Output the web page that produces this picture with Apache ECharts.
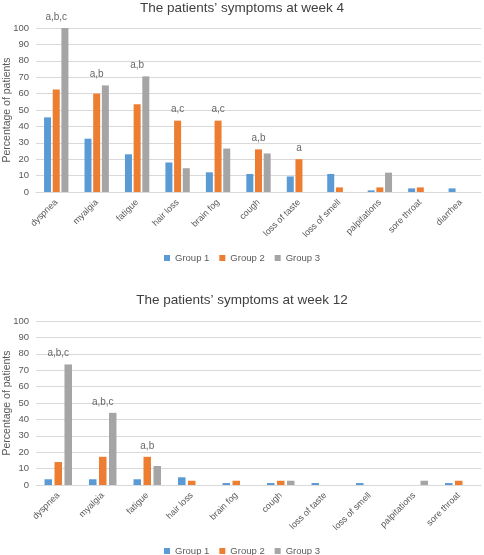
<!DOCTYPE html>
<html>
<head>
<meta charset="utf-8">
<script src="https://cdn.jsdelivr.net/npm/echarts@6/dist/echarts.min.js"></script>
<style>
html,body{margin:0;padding:0;background:#fff;}
#chart{width:484px;height:555px;}
</style>
</head>
<body>
<div id="chart"></div>
<script>
const groupNames = ['Group 1', 'Group 2', 'Group 3'];
const colors = ['#5B9BD5', '#ED7D31', '#A5A5A5'];

const categoriesWeek4 = ['dyspnea', 'myalgia', 'fatigue', 'hair loss', 'brain fog', 'cough', 'loss of taste', 'loss of smell', 'palpitations', 'sore throat', 'diarrhea'];
const group1Week4 = [45.5, 32.5, 23, 18, 12, 11, 9.5, 11, 1, 2.2, 2.2];
const group2Week4 = [62.5, 60, 53.5, 43.5, 43.5, 26, 20, 2.8, 2.8, 2.8, null];
const group3Week4 = [100, 65, 70.5, 14.5, 26.5, 23.5, null, null, 11.8, null, null];
const notesWeek4 = ['a,b,c', 'a,b', 'a,b', 'a,c', 'a,c', 'a,b', 'a', '', '', '', ''];

const categoriesWeek12 = ['dyspnea', 'myalgia', 'fatigue', 'hair loss', 'brain fog', 'cough', 'loss of taste', 'loss of smell', 'palpitations', 'sore throat'];
const group1Week12 = [3.5, 3.5, 3.5, 4.7, 1.2, 1.2, 1.2, 1.2, null, 1.2];
const group2Week12 = [14, 17.2, 17.2, 2.6, 2.6, 2.6, null, null, null, 2.6];
const group3Week12 = [73.5, 44, 11.6, null, null, 2.6, null, null, 2.6, null];
const notesWeek12 = ['a,b,c', 'a,b,c', 'a,b', '', '', '', '', '', '', ''];

const yTicks = [0, 10, 20, 30, 40, 50, 60, 70, 80, 90, 100];

const FONT = 'Liberation Sans';
const textColor = '#595959';

function maxOf(arrs, i) {
  let m = 0;
  arrs.forEach(a => { if (a[i] != null && a[i] > m) m = a[i]; });
  return m;
}

function buildSeries(gridIdx, groups, notes, barWidth, barGap) {
  const s = groups.map((data, k) => ({
    name: groupNames[k],
    type: 'bar',
    xAxisIndex: gridIdx,
    yAxisIndex: gridIdx,
    data: data,
    barWidth: barWidth,
    barGap: barGap,
    itemStyle: { color: colors[k] },
    emphasis: { disabled: true }
  }));
  s.push({
    type: 'scatter',
    xAxisIndex: gridIdx,
    yAxisIndex: gridIdx,
    symbolSize: 0,
    silent: true,
    data: notes.map((n, i) => ({ value: maxOf(groups, i), note: n })),
    label: {
      show: true,
      position: 'top',
      distance: 6,
      formatter: p => p.data.note,
      fontFamily: FONT,
      fontSize: 10,
      color: '#404040'
    }
  });
  return s;
}

function xAxisFor(gridIdx, cats) {
  return {
    type: 'category',
    gridIndex: gridIdx,
    data: cats,
    axisTick: { show: false },
    axisLine: { lineStyle: { color: '#D9D9D9' } },
    axisLabel: {
      interval: 0,
      rotate: 45,
      fontFamily: FONT,
      fontSize: 9,
      color: textColor,
      margin: 9
    }
  };
}

function yAxisFor(gridIdx) {
  return {
    type: 'value',
    gridIndex: gridIdx,
    min: yTicks[0],
    max: yTicks[yTicks.length - 1],
    interval: 10,
    name: 'Percentage of patients',
    nameLocation: 'middle',
    nameGap: 23,
    nameMoveOverlap: false,
    nameTextStyle: { fontFamily: FONT, fontSize: 10.5, color: textColor },
    axisLine: { show: false },
    axisTick: { show: false },
    splitLine: { lineStyle: { color: '#D9D9D9' } },
    axisLabel: { fontFamily: FONT, fontSize: 9.5, color: textColor, margin: 7 }
  };
}

const chart = echarts.init(document.getElementById('chart'), null, { renderer: 'canvas' });
chart.setOption({
  animation: false,
  backgroundColor: '#fff',
  title: [
    { text: 'The patients\u2019 symptoms at week 4', left: 'center', top: -4,
      textStyle: { fontFamily: FONT, fontSize: 13.5, fontWeight: 'normal', color: '#404040' } },
    { text: 'The patients\u2019 symptoms at week 12', left: 'center', top: 288,
      textStyle: { fontFamily: FONT, fontSize: 13.5, fontWeight: 'normal', color: '#404040' } }
  ],
  legend: [
    { data: groupNames, top: 248, left: 'center', icon: 'rect', itemWidth: 6, itemHeight: 6, itemGap: 10,
      textStyle: { fontFamily: FONT, fontSize: 9.5, color: textColor } },
    { data: groupNames, top: 541, left: 'center', icon: 'rect', itemWidth: 6, itemHeight: 6, itemGap: 10,
      textStyle: { fontFamily: FONT, fontSize: 9.5, color: textColor } }
  ],
  grid: [
    { left: 36, right: 3, top: 28, height: 164, containLabel: false, outerBoundsMode: 'none' },
    { left: 36, right: 3, top: 321, height: 164, containLabel: false, outerBoundsMode: 'none' }
  ],
  xAxis: [xAxisFor(0, categoriesWeek4), xAxisFor(1, categoriesWeek12)],
  yAxis: [yAxisFor(0), yAxisFor(1)],
  series: [
    ...buildSeries(0, [group1Week4, group2Week4, group3Week4], notesWeek4, 7, '24%'),
    ...buildSeries(1, [group1Week12, group2Week12, group3Week12], notesWeek12, 7.5, '33%')
  ]
});
</script>
</body>
</html>
